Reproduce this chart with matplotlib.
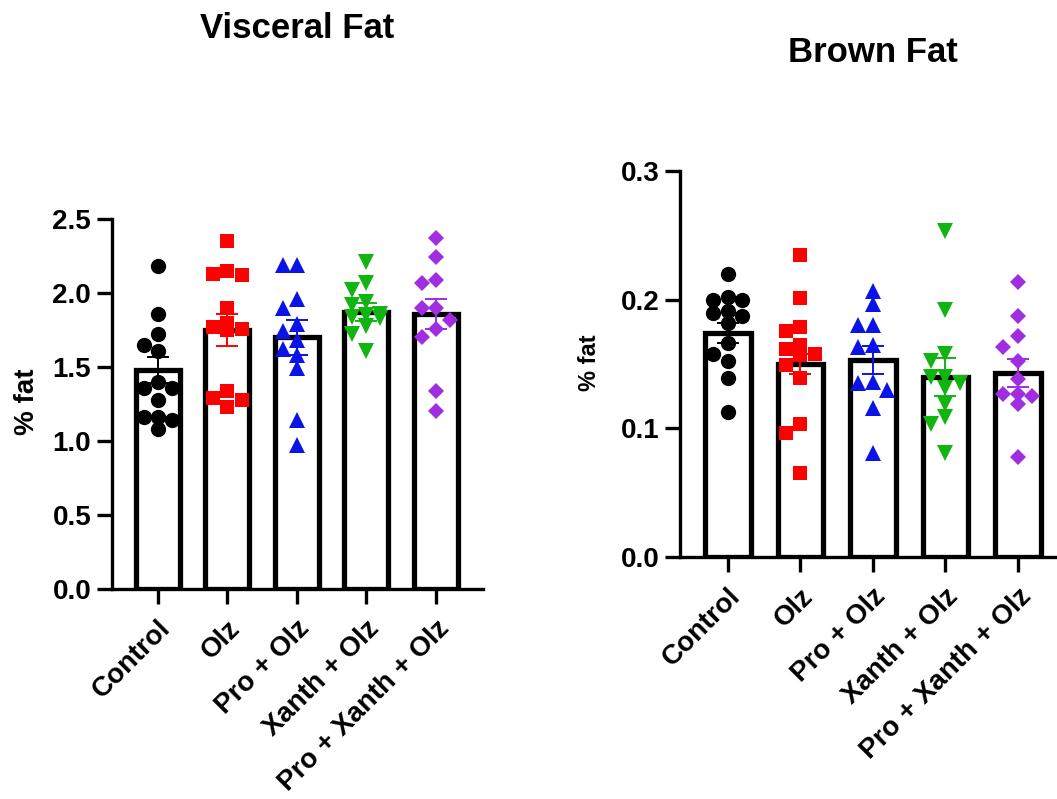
import matplotlib
matplotlib.use("Agg")
import matplotlib.pyplot as plt
import numpy as np

plt.rcParams['font.family'] = ['Liberation Sans', 'DejaVu Sans']
plt.rcParams['font.weight'] = 'bold'

groups = ["Control", "Olz", "Pro + Olz", "Xanth + Olz", "Pro + Xanth + Olz"]
colors = ["#000000", "#ff0000", "#0a14e6", "#12b412", "#a02ee0"]
markers = ["o", "s", "^", "v", "D"]
marker_sizes = [11, 10.5, 12, 12, 8.5]

# visceral fat (% fat), individual animals
visceral_control = [2.18, 1.86, 1.72, 1.65, 1.61, 1.40, 1.36, 1.36, 1.28, 1.16, 1.16, 1.14, 1.08]
visceral_olz = [2.35, 2.15, 2.13, 2.12, 1.90, 1.80, 1.77, 1.76, 1.75, 1.34, 1.29, 1.28, 1.23]
visceral_pro = [2.19, 2.19, 1.96, 1.90, 1.79, 1.74, 1.68, 1.62, 1.58, 1.49, 1.14, 0.97]
visceral_xanth = [2.21, 2.07, 2.02, 1.94, 1.92, 1.86, 1.85, 1.84, 1.83, 1.78, 1.72, 1.61]
visceral_pro_xanth = [2.37, 2.24, 2.09, 2.07, 1.90, 1.90, 1.82, 1.76, 1.70, 1.34, 1.20]
visceral_mean = [1.48, 1.75, 1.70, 1.87, 1.86]
visceral_sem = [0.09, 0.11, 0.12, 0.06, 0.10]

# brown fat (% fat)
brown_control = [0.220, 0.202, 0.200, 0.200, 0.191, 0.190, 0.187, 0.182, 0.166, 0.158, 0.152, 0.139, 0.113]
brown_olz = [0.235, 0.201, 0.179, 0.176, 0.165, 0.162, 0.158, 0.157, 0.149, 0.139, 0.103, 0.096, 0.065]
brown_pro = [0.207, 0.197, 0.180, 0.180, 0.165, 0.163, 0.136, 0.135, 0.130, 0.116, 0.081]
brown_xanth = [0.253, 0.192, 0.158, 0.152, 0.140, 0.140, 0.135, 0.131, 0.119, 0.109, 0.103, 0.081]
brown_pro_xanth = [0.214, 0.187, 0.172, 0.163, 0.152, 0.138, 0.127, 0.127, 0.125, 0.119, 0.078]
brown_mean = [0.174, 0.150, 0.153, 0.140, 0.143]
brown_sem = [0.008, 0.008, 0.011, 0.015, 0.011]


def swarm_offsets(ax, xc, values, diam_px):
    # simple beeswarm kept to 3 columns, points may overlap a bit like in prism
    px_per_x = ax.transData.transform((1, 0))[0] - ax.transData.transform((0, 0))[0]
    ys = [ax.transData.transform((xc, v))[1] for v in values]
    order = np.argsort(values)[::-1]
    placed = []
    offs = np.zeros(len(values))
    for i in order:
        best, best_d = 0.0, -1.0
        for k in [0, -1, 1]:
            dx = k * diam_px * 0.9
            d = min([np.hypot(dx - px, ys[i] - py) for px, py in placed] or [1e9])
            if d >= diam_px * 0.8:
                best = dx
                break
            if d > best_d:
                best, best_d = dx, d
        placed.append((best, ys[i]))
        offs[i] = best / px_per_x
    return offs


def draw_panel(ax, data, means, sems, ylim, yticks, fmt):
    x = np.arange(len(groups))
    ax.set_xlim(-0.66, 4.6)
    ax.set_ylim(*ylim)
    ax.bar(x, means, width=0.63, color="white", edgecolor="black", linewidth=3.8, zorder=1)
    for i, vals in enumerate(data):
        offs = swarm_offsets(ax, i, vals, 16)
        ax.plot(i + offs, vals, linestyle="none", marker=markers[i], color=colors[i],
                markersize=marker_sizes[i], markeredgewidth=0, zorder=3, clip_on=False)
        ax.errorbar(i, means[i], yerr=sems[i], color=colors[i], capsize=8,
                    elinewidth=1.4, capthick=1.4, zorder=4)
    ax.spines["top"].set_visible(False)
    ax.spines["right"].set_visible(False)
    ax.spines["left"].set_linewidth(2.4)
    ax.spines["bottom"].set_linewidth(2.4)
    ax.set_yticks(yticks)
    ax.set_yticklabels([fmt.format(t) for t in yticks])
    ax.set_xticks(x)
    ax.set_xticklabels(groups, rotation=45, ha="right", rotation_mode="anchor")
    ax.tick_params(width=2.4, length=11, labelsize=20, pad=4)
    ax.tick_params(axis="x", pad=8)


fig = plt.figure(figsize=(10.57, 7.99), dpi=100)

ax1 = fig.add_axes([112 / 1057, 1 - 589 / 799, 371 / 1057, 370 / 799])
draw_panel(ax1, [visceral_control, visceral_olz, visceral_pro, visceral_xanth, visceral_pro_xanth],
           visceral_mean, visceral_sem, (0, 2.5), [0, 0.5, 1.0, 1.5, 2.0, 2.5], "{:.1f}")
ax1.set_xlim(-0.66, 4.68)

ax2 = fig.add_axes([680 / 1057, 1 - 557 / 799, 377 / 1057, 386 / 799])
draw_panel(ax2, [brown_control, brown_olz, brown_pro, brown_xanth, brown_pro_xanth],
           brown_mean, brown_sem, (0, 0.3), [0, 0.1, 0.2, 0.3], "{:.1f}")
ax2.set_xlim(-0.66, 4.54)

fig.text(297 / 1057, 1 - 38 / 799, "Visceral Fat", ha="center", va="baseline", fontsize=25, fontweight="bold")
fig.text(873 / 1057, 1 - 62 / 799, "Brown Fat", ha="center", va="baseline", fontsize=25, fontweight="bold")
fig.text(27 / 1057, 1 - 402 / 799, "% fat", rotation=90, ha="center", va="center", fontsize=20, fontweight="bold")
fig.text(590 / 1057, 1 - 363 / 799, "% fat", rotation=90, ha="center", va="center", fontsize=17, fontweight="bold")

fig.savefig("out.png", dpi=100)
